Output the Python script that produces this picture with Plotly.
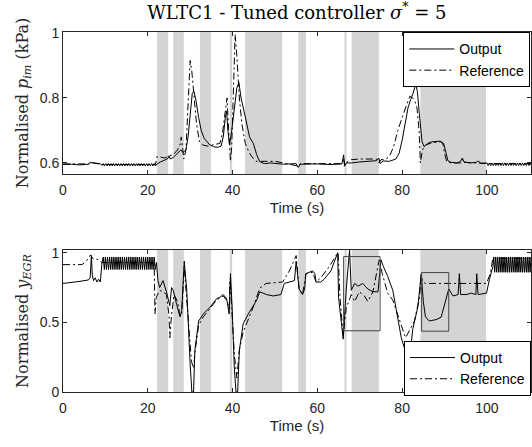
import plotly.graph_objects as go

# ---------------- data ----------------
# Top panel: normalised intake manifold pressure
t_pim_out = [0, 2, 4, 6, 6.4, 7.5, 8.8, 9.2,
             9.5, 9.8, 10.1, 10.4, 10.7, 11.0, 11.3, 11.6, 11.9, 12.2, 12.5, 12.8, 13.1, 13.4,
             13.7, 14.0, 14.3, 14.6, 14.9, 15.2, 15.5, 15.8, 16.1, 16.4, 16.7, 17.0, 17.3, 17.6,
             17.9, 18.2, 18.5, 18.8, 19.1, 19.4, 19.7, 20.0, 20.3, 20.6, 20.9, 21.2, 21.5, 21.8,
             22.2, 23, 24, 24.7, 25.0, 25.3, 26, 27, 27.8, 28.3, 29, 29.5, 30, 30.5, 30.9, 31.4,
             32, 32.6, 33.3, 34.5, 35.5, 36.5, 37.3, 37.8, 38.3, 38.6, 38.9, 39.3, 39.8, 40.4,
             41.0, 41.5, 42.0, 42.7, 43.3, 44.0, 44.9, 45.7, 46.4, 47.5, 49, 51, 52, 55, 55.5,
             56, 60, 63, 65.8, 66.2, 66.4, 66.8, 68, 70, 72, 74, 74.5, 74.8, 75.5, 77, 78.5,
             79.3, 80.0, 80.7, 81.4, 82.0, 82.6, 83.2, 83.6, 84.0, 84.4, 84.7, 85.2, 86, 87, 89,
             89.8, 90.3, 90.8, 91.5, 93, 93.8, 94.2, 94.6, 96, 97.5, 98, 98.5, 99.5,
             100.0, 100.3, 100.6, 100.9, 101.2, 101.5, 101.8, 102.1, 102.4, 102.7, 103.0, 103.3,
             103.6, 103.9, 104.2, 104.5, 104.8, 105.1, 105.4, 105.7, 106.0, 106.3, 106.6, 106.9,
             107.2, 107.5, 107.8, 108.1, 108.4, 108.7, 109.0, 109.3, 109.6, 109.9, 110.2, 110.5]
pim_out = [0.595, 0.596, 0.594, 0.596, 0.601, 0.600, 0.598, 0.592,
           0.598, 0.591, 0.598, 0.591, 0.598, 0.591, 0.598, 0.591, 0.598, 0.591, 0.598, 0.591, 0.598, 0.591,
           0.598, 0.591, 0.598, 0.591, 0.598, 0.591, 0.598, 0.591, 0.598, 0.591, 0.598, 0.591, 0.598, 0.591,
           0.598, 0.591, 0.598, 0.591, 0.598, 0.591, 0.598, 0.591, 0.598, 0.591, 0.598, 0.591, 0.598, 0.591,
           0.597, 0.603, 0.610, 0.613, 0.622, 0.612, 0.617, 0.630, 0.640, 0.632, 0.640, 0.680, 0.760, 0.815, 0.820, 0.790,
           0.740, 0.700, 0.676, 0.657, 0.650, 0.648, 0.652, 0.680, 0.740, 0.760, 0.700, 0.655, 0.700, 0.760,
           0.830, 0.848, 0.800, 0.760, 0.720, 0.680, 0.660, 0.625, 0.604, 0.598, 0.600, 0.597, 0.596, 0.598, 0.586,
           0.596, 0.597, 0.595, 0.597, 0.625, 0.590, 0.600, 0.600, 0.603, 0.606, 0.607, 0.615, 0.598, 0.606, 0.605, 0.612,
           0.630, 0.670, 0.720, 0.770, 0.795, 0.815, 0.842, 0.820, 0.760, 0.700, 0.665, 0.650, 0.660, 0.665, 0.667,
           0.660, 0.630, 0.607, 0.602, 0.600, 0.605, 0.615, 0.603, 0.600, 0.602, 0.606, 0.599, 0.600,
           0.600, 0.592, 0.600, 0.592, 0.600, 0.592, 0.600, 0.592, 0.600, 0.592, 0.600, 0.592,
           0.600, 0.592, 0.600, 0.592, 0.600, 0.592, 0.600, 0.592, 0.600, 0.592, 0.600, 0.592,
           0.600, 0.592, 0.600, 0.592, 0.600, 0.592, 0.600, 0.592, 0.600, 0.592, 0.600, 0.592]

t_pim_ref = [0, 6, 6.4, 8.8, 9.2, 21.8, 22.2, 23, 24, 25, 26, 27, 27.6, 27.9, 28.2, 28.5, 29.0,
             29.5, 30.0, 30.4, 31, 31.5, 32.2, 33, 34, 35, 36, 37, 37.6, 38.3, 38.7, 39.0, 39.5,
             39.8, 40.2, 40.6, 41.0, 41.6, 42.2, 43.0, 43.8, 44.5, 45.5, 47, 50, 52, 55.5, 56,
             60, 63, 65.8, 66.2, 66.5, 67, 68, 70, 72, 74, 74.5, 75, 76, 77, 78, 79, 80, 81,
             81.8, 82.5, 83.0, 83.5, 84.0, 84.3, 84.8, 85.5, 87, 89, 89.6, 90, 90.5, 91.5, 94,
             94.2, 94.6, 100, 110.5]
pim_ref = [0.597, 0.597, 0.602, 0.598, 0.595, 0.595, 0.620, 0.618, 0.615, 0.622, 0.625, 0.640, 0.655, 0.680, 0.640, 0.612, 0.640,
           0.780, 0.915, 0.880, 0.800, 0.720, 0.665, 0.655, 0.652, 0.655, 0.657, 0.660, 0.690, 0.760, 0.800, 0.720, 0.605,
           0.650, 0.850, 0.995, 0.930, 0.800, 0.720, 0.660, 0.635, 0.620, 0.605, 0.605, 0.605, 0.600, 0.590, 0.598,
           0.598, 0.598, 0.598, 0.615, 0.592, 0.603, 0.610, 0.612, 0.613, 0.612, 0.600, 0.610, 0.610, 0.620, 0.650, 0.700, 0.740, 0.780,
           0.805, 0.800, 0.790, 0.770, 0.700, 0.600, 0.640, 0.655, 0.662, 0.665, 0.660, 0.630, 0.605, 0.600, 0.600,
           0.612, 0.602, 0.598, 0.598]

# Bottom panel: normalised EGR output
t_egr_out = [0, 2, 4, 6, 6.4, 6.7, 6.9, 7.2, 7.6, 8, 8.4, 8.8, 9.2,
             9.5, 9.75, 10.0, 10.25, 10.5, 10.75, 11.0, 11.25, 11.5, 11.75, 12.0, 12.25, 12.5, 12.75,
             13.0, 13.25, 13.5, 13.75, 14.0, 14.25, 14.5, 14.75, 15.0, 15.25, 15.5, 15.75, 16.0, 16.25,
             16.5, 16.75, 17.0, 17.25, 17.5, 17.75, 18.0, 18.25, 18.5, 18.75, 19.0, 19.25, 19.5, 19.75,
             20.0, 20.25, 20.5, 20.75, 21.0, 21.25, 21.5, 21.75,
             22.05, 22.4, 22.8, 23.6, 24.4, 25.2, 25.6, 26.0, 26.8, 27.6, 28.0, 28.6, 29.2, 29.6,
             30.0, 30.4, 30.8, 31.1, 32.0, 33.1, 34.7, 36.2, 37.0, 37.8, 38.6, 39.2, 39.5, 39.9,
             40.4, 40.8, 41.2, 41.6, 42.5, 43.7, 45.0, 45.7, 46.4, 48, 49.6, 51.4, 52.2, 53.8,
             54.6, 55.0, 55.3, 55.7, 56.5, 57.0, 57.3, 58.9, 59.4, 59.7, 60.8, 61.6, 63.2, 64.4,
             64.8, 65.0, 65.6, 66.1, 66.8, 67.2, 67.6, 68.0, 68.8, 69.6, 70.7, 71.9, 73.1, 74.3,
             75.0, 75.6, 76.6, 77.8, 79.0, 79.8, 80.6, 81.4, 81.9, 82.5, 83.7, 84.5, 85.0, 85.5,
             86.4, 88.0, 89.2, 90.0, 91.0, 92.0, 93.2, 93.5, 93.8, 95.1, 96.3, 97.4, 97.6, 97.9,
             99.9, 100.6, 101.4,
             101.6, 101.82, 102.04, 102.26, 102.48, 102.7, 102.92, 103.14, 103.36, 103.58, 103.8,
             104.02, 104.24, 104.46, 104.68, 104.9, 105.12, 105.34, 105.56, 105.78, 106.0, 106.22,
             106.44, 106.66, 106.88, 107.1, 107.32, 107.54, 107.76, 107.98, 108.2, 108.42, 108.64,
             108.86, 109.08, 109.3, 109.52, 109.74, 109.96, 110.18, 110.4]
egr_out = [0.780, 0.785, 0.795, 0.805, 0.820, 0.980, 0.840, 0.800, 0.820, 0.790, 0.810, 0.790, 0.930,
           0.970, 0.880, 0.970, 0.880, 0.970, 0.880, 0.970, 0.880, 0.970, 0.880, 0.970, 0.880, 0.970, 0.880,
           0.970, 0.880, 0.970, 0.880, 0.970, 0.880, 0.970, 0.880, 0.970, 0.880, 0.970, 0.880, 0.970, 0.880,
           0.970, 0.880, 0.970, 0.880, 0.970, 0.880, 0.970, 0.880, 0.970, 0.880, 0.970, 0.880, 0.970, 0.880,
           0.970, 0.880, 0.970, 0.880, 0.970, 0.880, 0.970, 0.880,
           0.930, 0.800, 0.750, 0.800, 0.720, 0.620, 0.750, 0.730, 0.630, 0.540, 0.580, 0.940, 0.730, 0.420,
           0.200, 0.000, 0.000, 0.300, 0.510, 0.560, 0.610, 0.670, 0.680, 0.700, 0.670, 0.560, 0.850, 0.610,
           0.180, 0.000, 0.000, 0.300, 0.490, 0.560, 0.620, 0.660, 0.720, 0.700, 0.690, 0.700, 0.780, 0.790,
           0.800, 0.940, 0.850, 0.740, 0.700, 0.740, 0.850, 0.870, 0.850, 0.790, 0.790, 0.810, 0.870, 0.980,
           1.000, 0.680, 0.490, 0.380, 0.730, 0.890, 1.020, 0.730, 0.780, 0.760, 0.780, 0.740, 0.720, 0.720,
           0.950, 0.900, 0.830, 0.730, 0.510, 0.390, 0.310, 0.275, 0.275, 0.450, 0.610, 0.850, 0.650, 0.540,
           0.510, 0.520, 0.537, 0.630, 0.740, 0.690, 0.700, 0.850, 0.700, 0.700, 0.710, 0.700, 0.850, 0.700,
           0.710, 0.810, 0.900,
           0.970, 0.860, 0.970, 0.860, 0.970, 0.860, 0.970, 0.860, 0.970, 0.860, 0.970,
           0.860, 0.970, 0.860, 0.970, 0.860, 0.970, 0.860, 0.970, 0.860, 0.970, 0.860,
           0.970, 0.860, 0.970, 0.860, 0.970, 0.860, 0.970, 0.860, 0.970, 0.860, 0.970,
           0.860, 0.970, 0.860, 0.970, 0.860, 0.970, 0.860, 0.970]

t_egr_ref = [0, 4.5, 5.5, 6.5, 7.0, 8.0, 9.2, 21.5, 21.7, 22.0, 22.8, 23.6, 24.4, 25.0, 25.2, 25.6,
             26.2, 27.0, 27.6, 28.0, 28.6, 29.2, 29.6, 30.3, 30.8, 31.2, 32.0, 33.1, 34.7, 36.2,
             37.8, 38.6, 39.2, 39.4, 39.8, 40.4, 41.0, 41.6, 42.5, 43.7, 45.0, 46.4, 47.9, 51.8,
             53.4, 55.0, 55.7, 56.5, 57.3, 58.9, 59.7, 60.8, 62.8, 64.4, 64.9, 65.3, 66.1, 66.8,
             68.0, 68.8, 69.9, 71.1, 71.9, 73.1, 74.6, 75.3, 76.6, 77.8, 79.0, 80.2, 80.8, 81.7,
             82.9, 84.1, 84.5, 84.9, 85.5, 91.2, 99.9, 100.8, 101.4, 110.4]
egr_ref = [0.915, 0.915, 0.940, 0.985, 0.960, 0.955, 0.930, 0.930, 0.560, 0.680, 0.730, 0.720, 0.700, 0.550, 0.390, 0.550,
           0.700, 0.650, 0.550, 0.550, 0.900, 0.650, 0.450, 0.220, 0.170, 0.300, 0.480, 0.540, 0.600, 0.660,
           0.690, 0.660, 0.600, 0.800, 0.600, 0.280, 0.100, 0.300, 0.430, 0.520, 0.620, 0.746, 0.780, 0.790,
           0.870, 0.980, 0.740, 0.700, 0.850, 0.860, 0.790, 0.820, 0.900, 0.980, 1.000, 0.700, 0.400, 0.600,
           0.700, 0.650, 0.720, 0.690, 0.650, 0.720, 0.950, 0.850, 0.710, 0.660, 0.550, 0.440, 0.390, 0.440,
           0.510, 0.680, 0.830, 0.790, 0.780, 0.780, 0.780, 0.850, 0.960, 0.960]

# shaded time intervals (s)
shade_start = [22.2, 26.0, 32.3, 39.35, 42.95, 55.5, 66.4, 68.1, 84.3]
shade_end = [24.8, 28.5, 34.9, 39.9, 51.7, 57.3, 66.9, 74.5, 99.8]

# highlight boxes on the bottom panel: (t0, t1, y0, y1)
box_t0 = [66.2, 84.6]
box_t1 = [74.8, 91.0]
box_y0 = [0.44, 0.437]
box_y1 = [0.973, 0.858]

x_ticks = [0, 20, 40, 60, 80, 100]

# ---------------- figure ----------------
fig = go.Figure()

line_out = dict(color="black", width=1)
line_ref = dict(color="black", width=1, dash="7px,3px,2px,3px")

fig.add_trace(go.Scatter(x=t_pim_out, y=pim_out, mode="lines", line=line_out,
                         name="Output", xaxis="x", yaxis="y", legend="legend"))
fig.add_trace(go.Scatter(x=t_pim_ref, y=pim_ref, mode="lines", line=line_ref,
                         name="Reference", xaxis="x", yaxis="y", legend="legend"))
fig.add_trace(go.Scatter(x=t_egr_out, y=egr_out, mode="lines", line=line_out,
                         name="Output", xaxis="x2", yaxis="y2", legend="legend2"))
fig.add_trace(go.Scatter(x=t_egr_ref, y=egr_ref, mode="lines", line=line_ref,
                         name="Reference", xaxis="x2", yaxis="y2", legend="legend2"))

shapes = []
for ya in ["y", "y2"]:
    xa = "x" if ya == "y" else "x2"
    for s, e in zip(shade_start, shade_end):
        shapes.append(dict(type="rect", xref=xa, yref=f"{ya} domain", x0=s, x1=e, y0=0, y1=1,
                           fillcolor="#d4d4d4", line=dict(width=0), layer="below"))
for a, b, c, d in zip(box_t0, box_t1, box_y0, box_y1):
    shapes.append(dict(type="rect", xref="x2", yref="y2", x0=a, x1=b, y0=c, y1=d,
                       line=dict(color="#444444", width=1), fillcolor="rgba(0,0,0,0)"))

sans = "Liberation Sans"
tick_font = dict(family=sans, size=14, color="#262626")
legend_font = dict(family=sans, size=14, color="black")
serif = "DejaVu Serif"

common_x = dict(range=[0, 110.4], tickvals=x_ticks, showline=True, linecolor="#262626", linewidth=1,
                mirror="ticks", ticks="inside", ticklen=4, tickcolor="#262626", showgrid=False,
                zeroline=False, tickfont=tick_font, ticklabelstandoff=3,
                title=dict(text="Time (s)", font=dict(family=sans, size=15, color="#262626"), standoff=5))
common_y = dict(showline=True, linecolor="#262626", linewidth=1, mirror="ticks", ticks="inside",
                ticklen=4, tickcolor="#262626", showgrid=False, zeroline=False, tickfont=tick_font)

fig.update_layout(
    width=532, height=447,
    margin=dict(l=63, r=1, t=32, b=55),
    paper_bgcolor="white", plot_bgcolor="white",
    showlegend=True,
    shapes=shapes,
    title=dict(text="WLTC1 - Tuned controller <i>σ</i><sup>*</sup> = 5", x=0.5581, xanchor="center",
               y=0.972, yanchor="middle", font=dict(family=serif, size=18, color="black")),
    xaxis=dict(**common_x, domain=[0, 1], anchor="y"),
    xaxis2=dict(**common_x, domain=[0, 1], anchor="y2"),
    yaxis=dict(**common_y, domain=[0.6056, 1.0], range=[0.566, 1.003], tickvals=[0.6, 0.8, 1],
               ticktext=["0.6", "0.8", "1"], anchor="x",
               title=dict(text="Normalised <i>p<sub>im</sub></i> (kPa)",
                          font=dict(family=serif, size=16, color="#262626"), standoff=7)),
    yaxis2=dict(**common_y, domain=[0, 0.3944], range=[0, 1.02], tickvals=[0, 0.5, 1],
                ticktext=["0", "0.5", "1"], anchor="x2",
                title=dict(text="Normalised <i>y<sub>EGR</sub></i>",
                           font=dict(family=serif, size=16, color="#262626"), standoff=7)),
    legend=dict(x=0.9985, xanchor="right", y=0.999, yanchor="top", bgcolor="white",
                bordercolor="black", borderwidth=1, font=legend_font, itemwidth=45,
                tracegroupgap=0),
    legend2=dict(x=1.0, xanchor="right", y=-0.011, yanchor="bottom", bgcolor="white",
                 bordercolor="black", borderwidth=1, font=legend_font, itemwidth=45,
                 tracegroupgap=0),
)

fig.write_html("out.html", config={"displayModeBar": False})

# remove the default page margin so the 532x447 figure fills the window exactly
with open("out.html", "r", encoding="utf-8") as f:
    html = f.read()
html = html.replace("<head>", "<head><style>html,body{margin:0;padding:0;overflow:hidden;}</style>", 1)
with open("out.html", "w", encoding="utf-8") as f:
    f.write(html)
